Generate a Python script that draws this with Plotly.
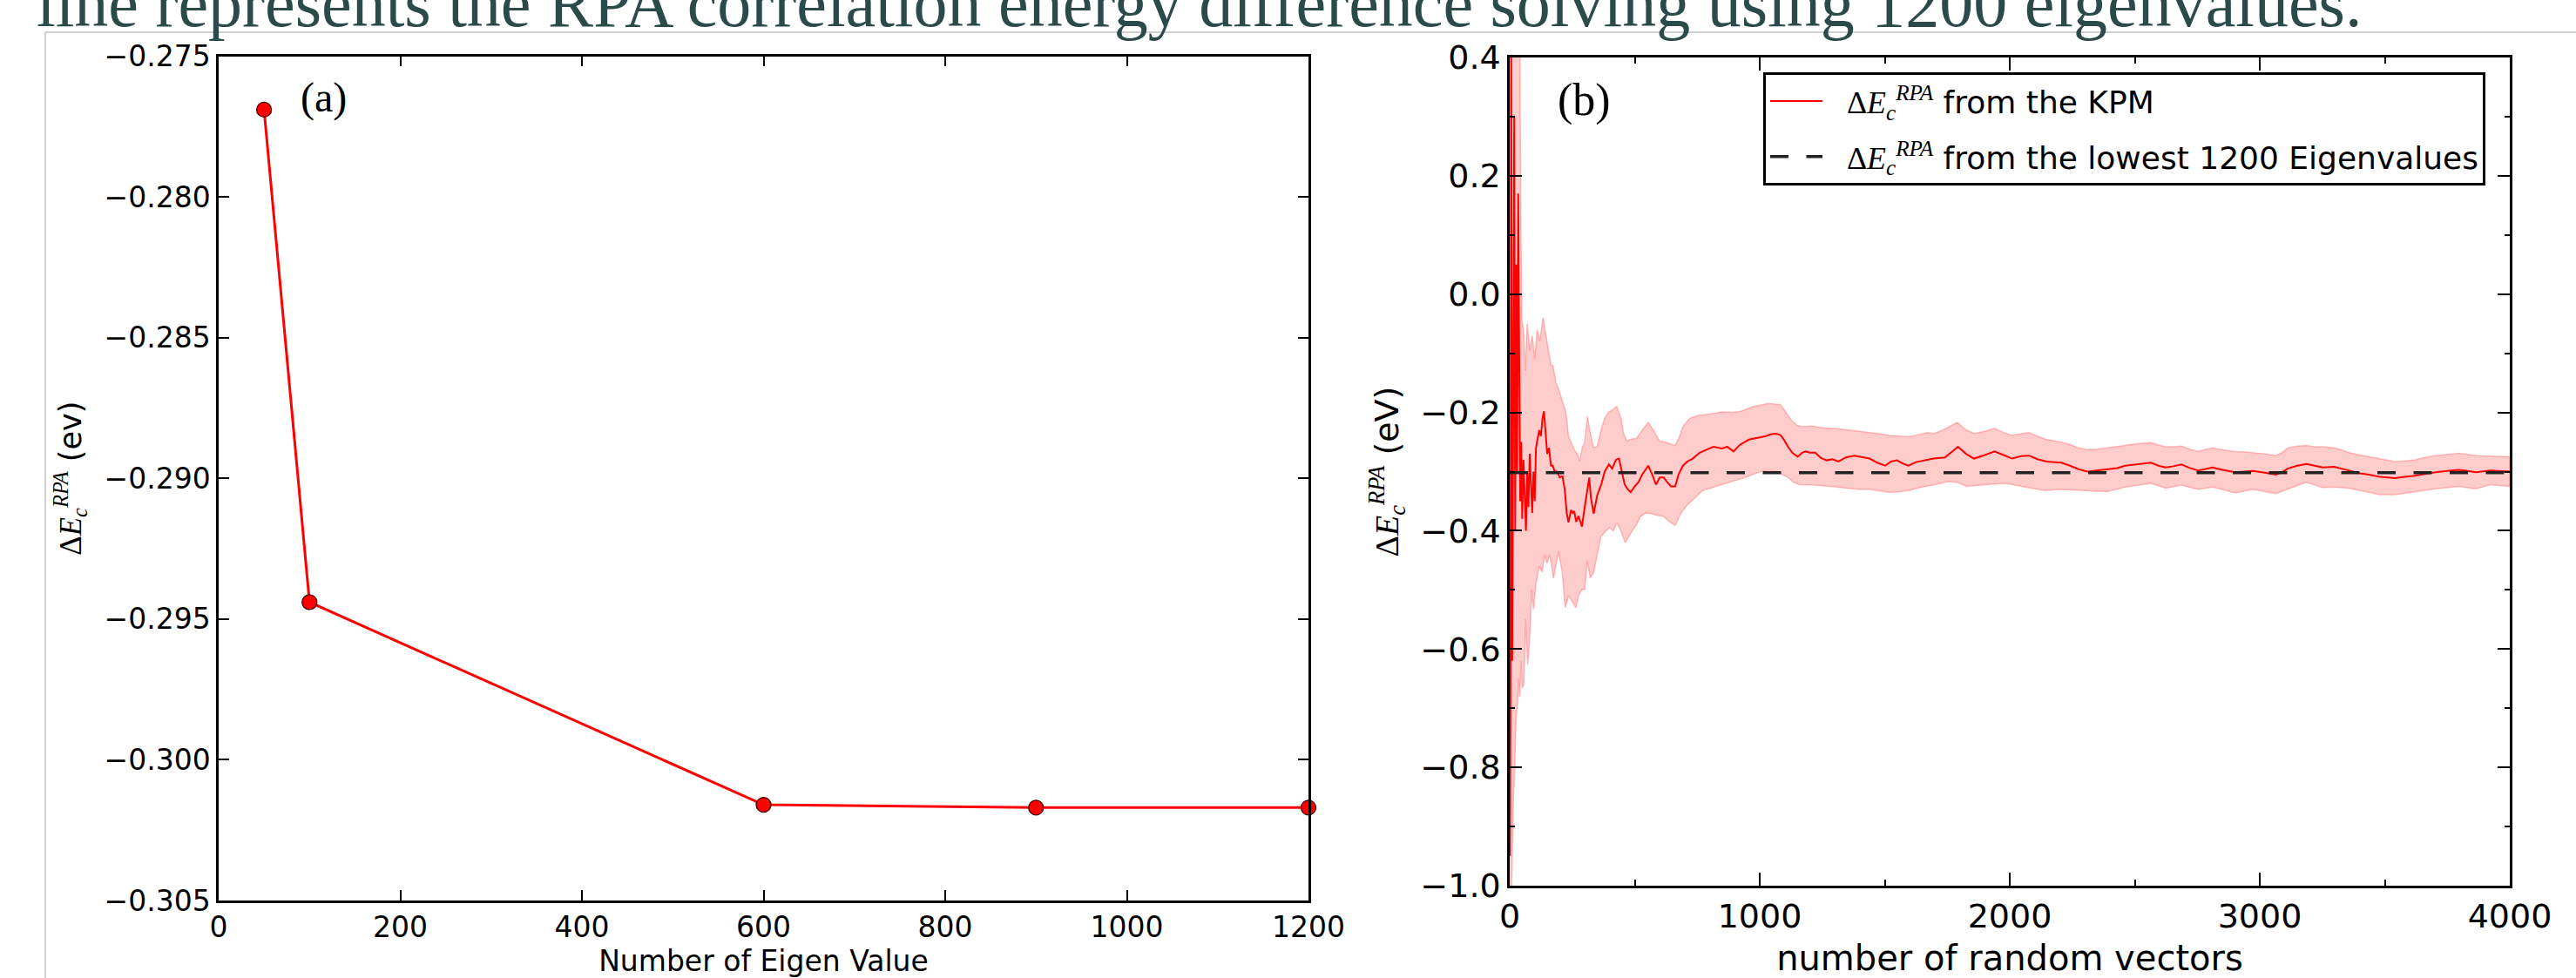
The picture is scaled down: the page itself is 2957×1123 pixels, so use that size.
import plotly.graph_objects as go

# ---------------- data ----------------
# Panel (a): RPA correlation energy difference vs number of eigenvalues
eig_counts = [50, 100, 600, 900, 1200]
ec_rpa_eig = [-0.2769, -0.2944, -0.3016, -0.3017, -0.3017]

# Panel (b): KPM estimate vs number of random vectors
eig_ref = -0.3017  # from the lowest 1200 eigenvalues

kpm_x = [1, 3, 6, 10, 14, 18, 22, 26, 30, 34, 38, 42, 46, 50, 55, 60, 65, 70, 75, 80,
         85, 90, 95, 100, 105, 110, 118, 125, 131, 137, 143, 150, 157, 165, 172, 180, 190,
         200, 211, 220, 228, 235, 245, 252, 258, 266, 275, 289, 300, 310, 318, 325, 336,
         350, 366, 380, 397, 410, 425, 437, 448, 460, 472, 484, 500, 515, 530, 554, 570,
         585, 600, 616, 630, 645, 662, 675, 693, 710, 732, 760, 787, 815, 849, 870, 895,
         920, 957, 980, 1004, 1025, 1043, 1065, 1082, 1095, 1113, 1130, 1152, 1170, 1183,
         1200, 1222, 1245, 1268, 1290, 1315, 1345, 1378, 1410, 1440, 1470, 1502, 1525,
         1549, 1575, 1595, 1625, 1657, 1695, 1741, 1765, 1793, 1825, 1857, 1900, 1939,
         1975, 2009, 2045, 2078, 2110, 2148, 2180, 2206, 2241, 2275, 2310, 2350, 2391,
         2430, 2461, 2510, 2565, 2595, 2623, 2655, 2687, 2720, 2753, 2780, 2810, 2850,
         2902, 2940, 2972, 3020, 3064, 3090, 3111, 3150, 3186, 3220, 3251, 3297, 3330,
         3355, 3400, 3436, 3481, 3540, 3580, 3621, 3660, 3703, 3750, 3795, 3830, 3865,
         3922, 3960, 4000]
kpm_y = [-0.95, -0.70, 0.45, -0.62, -0.20, 0.30, -0.40, 0.05, -0.30, 0.17, -0.10, -0.35,
         -0.25, -0.38, -0.28, -0.33, -0.40, -0.30, -0.36, -0.27, -0.32, -0.37, -0.30,
         -0.35, -0.26, -0.25, -0.23, -0.24, -0.21, -0.198, -0.23, -0.27, -0.26, -0.29,
         -0.29, -0.30, -0.30, -0.31, -0.308, -0.33, -0.37, -0.386, -0.365, -0.37, -0.367,
         -0.385, -0.375, -0.393, -0.36, -0.33, -0.31, -0.345, -0.371, -0.34, -0.322,
         -0.30, -0.288, -0.295, -0.28, -0.278, -0.30, -0.322, -0.33, -0.335, -0.325,
         -0.318, -0.305, -0.29, -0.305, -0.322, -0.31, -0.31, -0.318, -0.325, -0.325,
         -0.305, -0.29, -0.283, -0.278, -0.268, -0.263, -0.258, -0.261, -0.258, -0.266,
         -0.255, -0.246, -0.244, -0.241, -0.24, -0.237, -0.236, -0.238, -0.245, -0.258,
         -0.268, -0.275, -0.268, -0.266, -0.268, -0.268, -0.277, -0.281, -0.279, -0.283,
         -0.276, -0.273, -0.276, -0.278, -0.285, -0.29, -0.283, -0.281, -0.287, -0.29,
         -0.284, -0.281, -0.278, -0.276, -0.268, -0.258, -0.27, -0.278, -0.272, -0.266,
         -0.272, -0.278, -0.274, -0.273, -0.279, -0.283, -0.284, -0.285, -0.29, -0.296,
         -0.300, -0.298, -0.297, -0.294, -0.290, -0.288, -0.285, -0.29, -0.293, -0.291,
         -0.288, -0.294, -0.298, -0.296, -0.293, -0.297, -0.301, -0.300, -0.299, -0.302,
         -0.305, -0.301, -0.295, -0.29, -0.287, -0.29, -0.293, -0.292, -0.295, -0.298,
         -0.303, -0.305, -0.309, -0.311, -0.309, -0.307, -0.304, -0.301, -0.299, -0.297,
         -0.299, -0.301, -0.298, -0.299, -0.300]

band_up_x = [0, 10, 20, 30, 40, 45, 49, 55, 62, 70, 80, 90, 100, 110, 120, 133, 145, 155,
             165, 173, 185, 195, 211, 225, 235, 245, 258, 270, 280, 290, 300, 311, 320, 335,
             350, 365, 380, 397, 410, 428, 445, 455, 468, 485, 507, 530, 554, 575, 600, 620,
             640, 662, 680, 693, 720, 755, 800, 849, 890, 926, 950, 973, 1000, 1034, 1060,
             1082, 1100, 1128, 1150, 1175, 1210, 1253, 1300, 1346, 1390, 1440, 1480, 1517,
             1560, 1595, 1630, 1672, 1695, 1720, 1750, 1790, 1820, 1857, 1900, 1939, 1975,
             2009, 2045, 2078, 2110, 2148, 2180, 2206, 2241, 2275, 2310, 2350, 2391, 2430,
             2461, 2510, 2565, 2595, 2623, 2655, 2687, 2720, 2753, 2780, 2810, 2850, 2902,
             2940, 2972, 3020, 3064, 3090, 3111, 3150, 3186, 3220, 3251, 3297, 3330, 3355,
             3400, 3436, 3481, 3540, 3580, 3621, 3660, 3703, 3750, 3795, 3830, 3865, 3922,
             3960, 4000]
band_up_y = [0.6, 0.6, 0.6, 0.5, 0.45, 0.1, -0.043, -0.06, -0.13, -0.05, -0.096, -0.07,
             -0.11, -0.06, -0.08, -0.040, -0.07, -0.10, -0.12, -0.121, -0.15, -0.16, -0.180,
             -0.20, -0.24, -0.25, -0.263, -0.27, -0.283, -0.26, -0.25, -0.207, -0.23, -0.26,
             -0.258, -0.23, -0.21, -0.199, -0.196, -0.190, -0.21, -0.235, -0.249, -0.245,
             -0.244, -0.23, -0.217, -0.23, -0.249, -0.25, -0.253, -0.256, -0.24, -0.224,
             -0.21, -0.205, -0.203, -0.199, -0.2, -0.198, -0.194, -0.190, -0.188, -0.185,
             -0.186, -0.187, -0.197, -0.214, -0.222, -0.224, -0.223, -0.226, -0.227, -0.229,
             -0.231, -0.234, -0.236, -0.239, -0.24, -0.241, -0.238, -0.234, -0.236, -0.232,
             -0.226, -0.217, -0.228, -0.236, -0.232, -0.227, -0.234, -0.239, -0.236, -0.234,
             -0.24, -0.246, -0.248, -0.251, -0.254, -0.26, -0.263, -0.262, -0.260, -0.258,
             -0.256, -0.253, -0.251, -0.255, -0.258, -0.258, -0.257, -0.262, -0.266, -0.263,
             -0.260, -0.263, -0.266, -0.267, -0.268, -0.27, -0.273, -0.268, -0.260, -0.257,
             -0.256, -0.258, -0.258, -0.260, -0.264, -0.268, -0.272, -0.275, -0.279, -0.283,
             -0.282, -0.280, -0.276, -0.273, -0.271, -0.269, -0.271, -0.273, -0.274, -0.274,
             -0.275]

band_lo_x = [0, 5, 10, 15, 20, 25, 30, 35, 40, 45, 50, 56, 64, 72, 80, 88, 95, 105, 118,
             130, 140, 149, 160, 175, 188, 195, 210, 222, 235, 250, 265, 275, 289, 300, 310,
             322, 336, 350, 365, 383, 400, 415, 428, 445, 462, 475, 490, 507, 522, 545, 568,
             590, 616, 640, 662, 685, 709, 740, 771, 810, 849, 895, 942, 990, 1034, 1070,
             1113, 1135, 1159, 1220, 1284, 1340, 1400, 1440, 1480, 1517, 1560, 1595, 1640,
             1700, 1750, 1790, 1828, 1900, 1984, 2050, 2138, 2200, 2260, 2308, 2391, 2461,
             2565, 2623, 2687, 2753, 2810, 2902, 2972, 3064, 3111, 3186, 3251, 3297, 3355,
             3436, 3481, 3540, 3621, 3703, 3795, 3865, 3922, 4000]
band_lo_y = [-1.05, -1.05, -0.95, -0.85, -0.80, -0.72, -0.70, -0.65, -0.68, -0.62, -0.666,
             -0.66, -0.55, -0.626, -0.58, -0.50, -0.533, -0.49, -0.460, -0.47, -0.44, -0.455,
             -0.44, -0.48, -0.45, -0.435, -0.47, -0.53, -0.509, -0.52, -0.53, -0.51, -0.499,
             -0.50, -0.45, -0.48, -0.470, -0.44, -0.41, -0.401, -0.395, -0.40, -0.386, -0.40,
             -0.42, -0.411, -0.40, -0.39, -0.376, -0.37, -0.371, -0.374, -0.376, -0.385,
             -0.391, -0.37, -0.357, -0.345, -0.332, -0.326, -0.322, -0.316, -0.310, -0.302,
             -0.297, -0.30, -0.310, -0.318, -0.322, -0.323, -0.325, -0.327, -0.33, -0.330,
             -0.333, -0.335, -0.334, -0.332, -0.327, -0.322, -0.317, -0.318, -0.325, -0.322,
             -0.320, -0.325, -0.332, -0.33, -0.331, -0.332, -0.334, -0.326, -0.32, -0.328,
             -0.323, -0.33, -0.326, -0.336, -0.33, -0.337, -0.33, -0.318, -0.327, -0.326,
             -0.328, -0.335, -0.339, -0.339, -0.334, -0.329, -0.325, -0.329, -0.322, -0.325]

slide_caption = "line represents the RPA correlation energy difference solving using 1200 eigenvalues."

# ---------------- figure ----------------
W, H = 2957, 1123
SANS = "DejaVu Sans"
SERIF = "Liberation Serif"
math_e = ('<span style="font-family:Liberation Serif">\u0394<i>E</i>'
          '<sub><i>c</i></sub><sup><i>RPA</i></sup></span>')
pad = "\u00a0" * 2

fig = go.Figure()

# panel (a)
fig.add_trace(go.Scatter(
    x=eig_counts, y=ec_rpa_eig, mode="lines+markers", xaxis="x", yaxis="y",
    line=dict(color="#ff0000", width=3),
    marker=dict(size=17, color="#ff0000", line=dict(color="#3a0000", width=1.3)),
    cliponaxis=False, showlegend=False))

# panel (b): uncertainty band
fig.add_trace(go.Scatter(
    x=band_up_x + band_lo_x[::-1], y=band_up_y + band_lo_y[::-1],
    xaxis="x2", yaxis="y2", mode="lines", fill="toself",
    fillcolor="rgba(255,0,0,0.2)", line=dict(color="rgba(255,110,110,0.45)", width=1.5),
    showlegend=False, hoverinfo="skip"))

fig.add_trace(go.Scatter(
    x=kpm_x, y=kpm_y, xaxis="x2", yaxis="y2", mode="lines",
    line=dict(color="#ff0000", width=2),
    name=pad + math_e + " from the KPM", legendgroup="g1", legendrank=1))

fig.add_trace(go.Scatter(
    x=[0, 4000], y=[eig_ref, eig_ref], xaxis="x2", yaxis="y2", mode="lines",
    line=dict(color="#222222", width=3.5, dash="21px,20.5px"),
    name=pad + math_e + " from the lowest 1200 Eigenvalues", legendgroup="g2",
    legendrank=2))

axis_common = dict(showline=True, linecolor="black", linewidth=2.5, mirror="allticks",
                   ticks="inside", tickcolor="black", tickwidth=1.5, showgrid=False,
                   zeroline=False, automargin=False)

fig.update_layout(
    width=W, height=H, margin=dict(l=0, r=0, t=0, b=0, autoexpand=False),
    paper_bgcolor="white", plot_bgcolor="white",
    font=dict(family=SANS, color="black"),
    xaxis=dict(domain=[251 / W, 1502 / W], range=[0, 1200], dtick=200, ticklen=12,
               tickfont=dict(size=33),
               title=dict(text="Number of Eigen Value", font=dict(size=33), standoff=14),
               anchor="y", **axis_common),
    yaxis=dict(domain=[1 - 1034 / H, 1 - 64.5 / H], range=[-0.305, -0.275], dtick=0.005,
               tickformat=".3f", ticklen=12, tickfont=dict(size=33),
               title=dict(text=math_e + " (ev)", font=dict(size=35), standoff=16),
               anchor="x", **axis_common),
    xaxis2=dict(domain=[1733 / W, 2881 / W], range=[0, 4000], dtick=1000, ticklen=15,
                tickfont=dict(size=38),
                minor=dict(dtick=500, ticks="inside", ticklen=7, tickcolor="black",
                           tickwidth=1.5),
                title=dict(text="number of random vectors", font=dict(size=40), standoff=18),
                anchor="y2", **axis_common),
    yaxis2=dict(domain=[1 - 1017 / H, 1 - 66 / H], range=[-1.0, 0.4], dtick=0.2,
                tickformat=".1f", ticklen=14, tickfont=dict(size=38),
                minor=dict(dtick=0.1, ticks="inside", ticklen=6, tickcolor="black",
                           tickwidth=1.5),
                title=dict(text=math_e + " (eV)", font=dict(size=38), standoff=14),
                anchor="x2", **axis_common),
    legend=dict(x=2024 / W, y=1 - 83 / H, xanchor="left", yanchor="top",
                bordercolor="black", borderwidth=3, bgcolor="white",
                font=dict(family=SANS, size=36), tracegroupgap=14,
                itemwidth=60),
)

fig.add_annotation(text="(a)", xref="x", yref="y", x=88, y=-0.2769, xanchor="left",
                   yanchor="middle", yshift=14, showarrow=False,
                   font=dict(family=SERIF, size=48, color="black"))
fig.add_annotation(text="(b)", xref="x2", yref="y2", x=185, y=0.4, xanchor="left",
                   yanchor="top", yshift=-18, showarrow=False,
                   font=dict(family=SERIF, size=52, color="black"))

# slide caption, clipped by the top edge of the picture
fig.add_annotation(text=slide_caption, xref="paper", yref="paper", x=40 / W, y=1,
                   xanchor="left", yanchor="middle", yshift=-3, showarrow=False,
                   font=dict(family=SERIF, size=78, color="#2b4b4b"))

# slide frame (light grey border of the embedded picture)
fig.add_shape(type="line", xref="paper", yref="paper", x0=52 / W, x1=1, y0=1 - 37 / H,
              y1=1 - 37 / H, line=dict(color="#cfcfcf", width=2))
fig.add_shape(type="line", xref="paper", yref="paper", x0=52 / W, x1=52 / W, y0=0,
              y1=1 - 37 / H, line=dict(color="#cfcfcf", width=2))

fig.write_html(
    "out.html",
    config={"displayModeBar": False},
    post_script="document.body.style.margin='0px'; document.body.style.overflow='hidden';")
